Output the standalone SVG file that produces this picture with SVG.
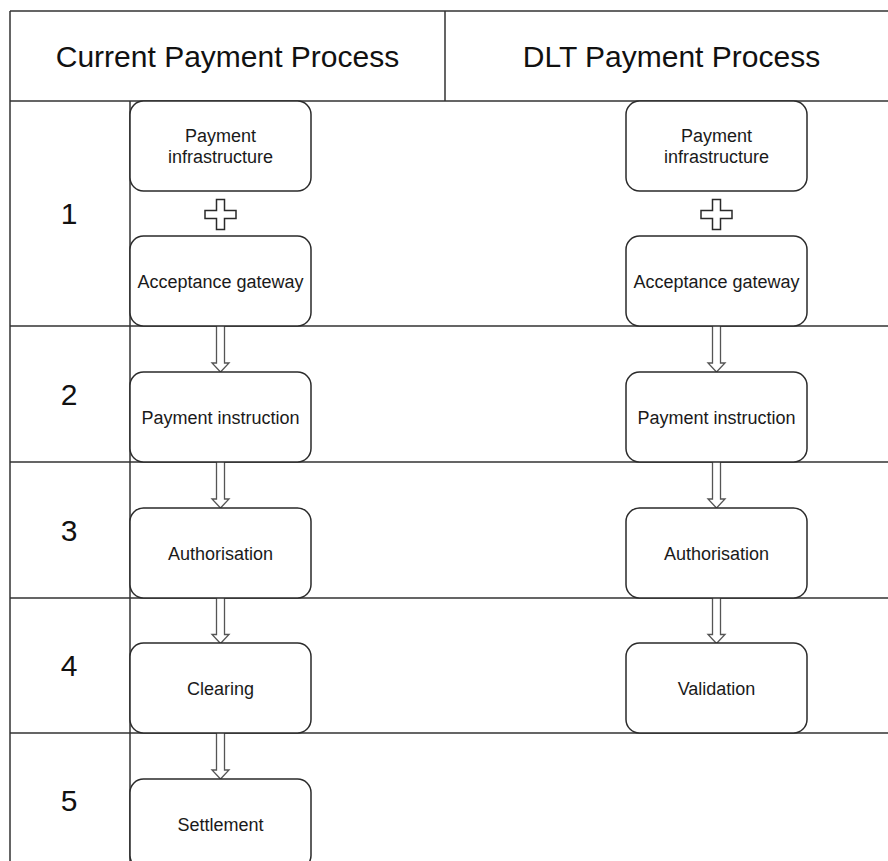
<svg xmlns="http://www.w3.org/2000/svg" width="888" height="861" viewBox="0 0 888 861">
<style>
.grid{stroke:#333;stroke-width:1.5;fill:none}
.box{fill:#fff;stroke:#2a2a2a;stroke-width:1.5}
.lbl{font-family:"Liberation Sans",Arial,Helvetica,sans-serif;font-size:18px;fill:#1a1a1a;text-anchor:middle}
.hdr{font-family:"Liberation Sans",Arial,Helvetica,sans-serif;font-size:30px;fill:#111;text-anchor:middle}
.arrow{fill:#fff;stroke:#555;stroke-width:1.3;stroke-linejoin:miter}
.cross{fill:#fff;stroke:#2a2a2a;stroke-width:1.5}
</style>
<defs>
<path id="crossShape" d="M -4 -15 H 4 V -4 H 15.5 V 4 H 4 V 15 H -4 V 4 H -15.5 V -4 H -4 Z"/>
<path id="flexArrow" d="M -4 0 V 37 H -8.5 L 0 46 L 8.5 37 H 4 V 0"/>
</defs>
<rect width="888" height="861" fill="#fff"/>
<g id="table">
<path class="grid" d="M 10 11 H 900 M 10 11 V 870 M 445 11 V 101 M 10 101 H 900 M 130 101 V 870 M 10 326 H 900 M 10 462 H 900 M 10 598 H 900 M 10 733 H 900"/>
<text class="hdr" x="227.5" y="66.5">Current Payment Process</text>
<text class="hdr" x="671.5" y="66.5">DLT Payment Process</text>
<text class="hdr" x="69" y="224">1</text>
<text class="hdr" x="69" y="405">2</text>
<text class="hdr" x="69" y="541">3</text>
<text class="hdr" x="69" y="676">4</text>
<text class="hdr" x="69" y="811">5</text>
</g>
<g id="connectors">
<use href="#flexArrow" class="arrow" transform="translate(220.5,326)"/>
<use href="#flexArrow" class="arrow" transform="translate(220.5,462)"/>
<use href="#flexArrow" class="arrow" transform="translate(220.5,597.5)"/>
<use href="#flexArrow" class="arrow" transform="translate(220.5,733)"/>
<use href="#flexArrow" class="arrow" transform="translate(716.5,326)"/>
<use href="#flexArrow" class="arrow" transform="translate(716.5,462)"/>
<use href="#flexArrow" class="arrow" transform="translate(716.5,597.5)"/>
</g>
<g id="cur-infra"><rect class="box" x="130" y="101" width="181" height="90" rx="13.5"/><text class="lbl" x="220.5" y="142">Payment</text><text class="lbl" x="220.5" y="163">infrastructure</text></g>
<g id="cur-plus"><use href="#crossShape" class="cross" transform="translate(220.5,214.5)"/></g>
<g id="cur-gateway"><rect class="box" x="130" y="236" width="181" height="90" rx="13.5"/><text class="lbl" x="220.5" y="287.5">Acceptance gateway</text></g>
<g id="cur-instruction"><rect class="box" x="130" y="372" width="181" height="90" rx="13.5"/><text class="lbl" x="220.5" y="423.5">Payment instruction</text></g>
<g id="cur-authorisation"><rect class="box" x="130" y="508" width="181" height="90" rx="13.5"/><text class="lbl" x="220.5" y="559.5">Authorisation</text></g>
<g id="cur-clearing"><rect class="box" x="130" y="643" width="181" height="90" rx="13.5"/><text class="lbl" x="220.5" y="694.5">Clearing</text></g>
<g id="cur-settlement"><rect class="box" x="130" y="779" width="181" height="90" rx="13.5"/><text class="lbl" x="220.5" y="830.5">Settlement</text></g>
<g id="dlt-infra"><rect class="box" x="626" y="101" width="181" height="90" rx="13.5"/><text class="lbl" x="716.5" y="142">Payment</text><text class="lbl" x="716.5" y="163">infrastructure</text></g>
<g id="dlt-plus"><use href="#crossShape" class="cross" transform="translate(716.5,214.5)"/></g>
<g id="dlt-gateway"><rect class="box" x="626" y="236" width="181" height="90" rx="13.5"/><text class="lbl" x="716.5" y="287.5">Acceptance gateway</text></g>
<g id="dlt-instruction"><rect class="box" x="626" y="372" width="181" height="90" rx="13.5"/><text class="lbl" x="716.5" y="423.5">Payment instruction</text></g>
<g id="dlt-authorisation"><rect class="box" x="626" y="508" width="181" height="90" rx="13.5"/><text class="lbl" x="716.5" y="559.5">Authorisation</text></g>
<g id="dlt-validation"><rect class="box" x="626" y="643" width="181" height="90" rx="13.5"/><text class="lbl" x="716.5" y="694.5">Validation</text></g>
</svg>
